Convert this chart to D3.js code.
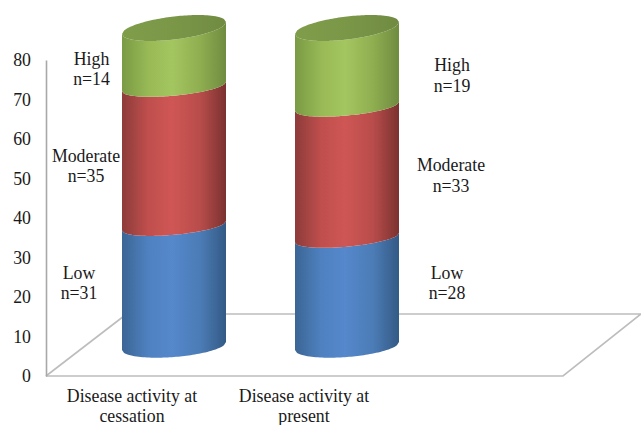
<!DOCTYPE html>
<html>
<head>
<meta charset="utf-8">
<script src="https://cdn.jsdelivr.net/npm/d3@7"></script>
<style>
  html, body { margin: 0; background: #fff; }
  text { font-family: "Liberation Serif", serif; font-size: 17.8px; fill: #1a1a1a; }
</style>
</head>
<body>
<div id="container"></div>
<script>
const categories = ["Disease activity at cessation", "Disease activity at present"];
const levels = ["Low", "Moderate", "High"];
const lowValues = [31, 28];
const moderateValues = [35, 33];
const highValues = [14, 19];
const yTicks = [0, 10, 20, 30, 40, 50, 60, 70, 80];

const w = 641;
const h = 425;

const table = categories.map((c, i) => ({
  category: c,
  Low: lowValues[i],
  Moderate: moderateValues[i],
  High: highValues[i]
}));
const stacked = d3.stack().keys(levels)(table);

const svg = d3.select("#container").append("svg")
  .attr("width", w)
  .attr("height", h)
  .style("display", "block");

//THE SCALES
const yAxisScale = d3.scaleLinear().domain([0, 80]).range([376, 60]);
//the bars sit on the 3d floor, further back than the axis, so they get their own scale
const yBar = d3.scaleLinear().domain([0, 80]).range([349, 31]);
const xLabel = d3.scalePoint().domain(categories).range([132, 304]);
const xBar = d3.scalePoint().domain(categories).range([174, 347]);

//THE FLOOR
const floor = svg.append("g")
  .attr("fill", "none")
  .attr("stroke", "#bdbdbd")
  .attr("stroke-width", 1.6);
floor.append("path").attr("d", "M46,376 L563,376 L641,314 L122,314");
floor.append("path").attr("d", "M46,376 L124,316");

//THE AXIS
const axis = d3.axisLeft(yAxisScale).tickValues(yTicks).tickSize(0).tickPadding(15);
const axisG = svg.append("g").attr("transform", "translate(46,0)").call(axis);
axisG.select(".domain").attr("stroke", "#a8a8a8").attr("stroke-width", 1.6);
axisG.attr("font-family", null).attr("font-size", null);

//THE GRADIENTS, dark on the edges and light a bit left of the middle
const shades = {
  Low: ["#3b6594", "#4f81c0", "#5488cc", "#4c7cb6", "#335a85"],
  Moderate: ["#8d3b3a", "#bf4f4d", "#cf5654", "#b84d4b", "#7b3130"],
  High: ["#7a9a45", "#98b955", "#a4c660", "#8fae50", "#6f8c40"]
};
const defs = svg.append("defs");
const stops = [0, 0.25, 0.48, 0.75, 1];
levels.forEach(level => {
  const grad = defs.append("linearGradient").attr("id", "grad" + level);
  stops.forEach((s, i) => {
    grad.append("stop").attr("offset", s).attr("stop-color", shades[level][i]);
  });
});
const capGrad = defs.append("linearGradient")
  .attr("id", "gradCap").attr("x1", 0).attr("y1", 0).attr("x2", 1).attr("y2", 0);
capGrad.append("stop").attr("offset", 0).attr("stop-color", "#7f9d4a");
capGrad.append("stop").attr("offset", 0.5).attr("stop-color", "#7a9747");
capGrad.append("stop").attr("offset", 1).attr("stop-color", "#708b42");

//THE CYLINDERS
const rx = 52;
const us = d3.range(-1, 1.0001, 0.04);
const curve = d3.line().x(d => d[0]).y(d => d[1]);

//The ellipses are not all alike in the picture: flat and less tilted in the
//middle, rounder at the roof and the foot of the stack.
function edgeShape(v) {
  if (v === 0) return { cy: yBar(0) - 3, ry: 11, tilt: 0.077 };
  if (v === 80) return { cy: yBar(80) - 3, ry: 11.5, tilt: 0.115 };
  return { cy: yBar(v), ry: 9, tilt: 0.09 };
}

function arcPoints(cx, shape, sign) {
  return us.map(u => [
    cx + rx * u,
    shape.cy - shape.tilt * rx * u + sign * shape.ry * Math.sqrt(Math.max(0, 1 - u * u))
  ]);
}

function segmentPath(cx, v0, v1) {
  const lower = arcPoints(cx, edgeShape(v0), 1);
  const upper = arcPoints(cx, edgeShape(v1), 1).reverse();
  return curve(lower.concat(upper)) + "Z";
}

const bars = svg.append("g");
const blur = defs.append("filter").attr("id", "soft");
blur.append("feGaussianBlur").attr("stdDeviation", 0.5);
bars.attr("filter", "url(#soft)");

stacked.forEach(series => {
  bars.append("g")
    .selectAll("path")
    .data(series)
    .enter()
    .append("path")
    .attr("d", d => segmentPath(xBar(d.data.category), d[0], d[1]))
    .attr("fill", `url(#grad${series.key})`);
});

bars.selectAll(".cap")
  .data(stacked[2])
  .enter()
  .append("path")
  .attr("class", "cap")
  .attr("d", d => {
    const cx = xBar(d.data.category);
    const shape = edgeShape(d[1]);
    return curve(arcPoints(cx, shape, 1).concat(arcPoints(cx, shape, -1).reverse())) + "Z";
  })
  .attr("fill", "url(#gradCap)");

//THE CATEGORY LABELS
const catLines = [["Disease activity at", "cessation"], ["Disease activity at", "present"]];
categories.forEach((c, i) => {
  const t = svg.append("text").attr("text-anchor", "middle");
  catLines[i].forEach((line, j) => {
    t.append("tspan")
      .attr("x", xLabel(c))
      .attr("y", 402 + j * 20)
      .text(line);
  });
});

//THE SEGMENT LABELS
const labelSpots = [
  { Low: [79, 279, 299], Moderate: [86, 162, 182], High: [91.5, 65, 85] },
  { Low: [447, 279, 299], Moderate: [451, 171, 192], High: [452, 71, 92] }
];
table.forEach((row, i) => {
  levels.forEach(level => {
    const [x, y1, y2] = labelSpots[i][level];
    const t = svg.append("text").attr("text-anchor", "middle");
    t.append("tspan").attr("x", x).attr("y", y1).text(level);
    t.append("tspan").attr("x", x).attr("y", y2).text("n=" + row[level]);
  });
});
</script>
</body>
</html>
